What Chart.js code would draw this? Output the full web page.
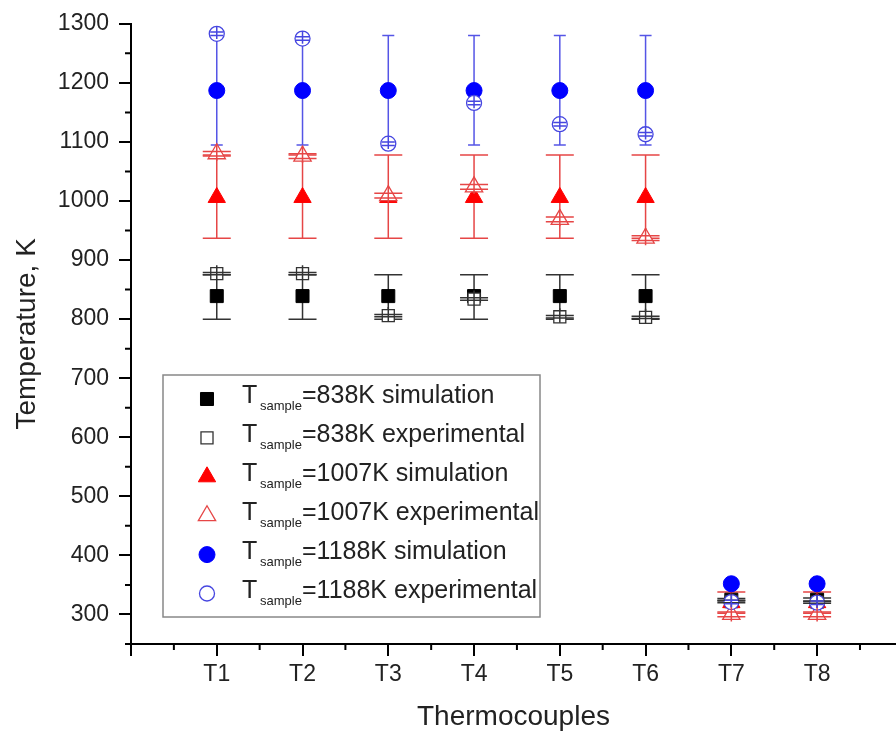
<!DOCTYPE html>
<html>
<head>
<meta charset="utf-8">
<script src="https://cdn.jsdelivr.net/npm/chart.js@4.4.1/dist/chart.umd.min.js"></script>
<style>
    html, body { margin: 0; padding: 0; background: #fff; }
    #wrap { width: 896px; height: 736px; }
</style>
</head>
<body>
<div id="wrap"><canvas id="chart" width="896" height="736"></canvas></div>
<script>
// thermocouple positions on the x axis
const thermocouples = ["T1", "T2", "T3", "T4", "T5", "T6", "T7", "T8"];
const tcPos = [1, 2, 3, 4, 5, 6, 7, 8];

// T_sample = 838 K
const sim838 = [839, 839, 839, 839, 839, 839, 325, 325];
const sim838Low = [800, 800, 800, 800, 800, 800, 323, 322];
const sim838High = [875, 875, 875, 875, 875, 875, 327, 328];
const exp838 = [877, 877, 806, 834, 804, 803, 322, 321];
const exp838Err = [2, 2, 2, 2, 2, 2, 2, 2];

// T_sample = 1007 K
const sim1007 = [1006, 1006, 1006, 1006, 1006, 1006, 320, 320];
const sim1007Low = [937, 937, 937, 937, 937, 937, 302, 302];
const sim1007High = [1078, 1078, 1078, 1078, 1078, 1078, 338, 338];
const exp1007 = [1080, 1076, 1009, 1024, 969, 937, 300, 300];
const exp1007Err = [4, 4, 4, 4, 4, 4, 4, 4];

// T_sample = 1188 K
const sim1188 = [1187, 1187, 1187, 1187, 1187, 1187, 352, 352];
const sim1188Low = [1095, 1095, 1095, 1095, 1095, 1095, 352, 352];
const sim1188High = [1280, 1280, 1280, 1280, 1280, 1280, 352, 352];
const exp1188 = [1283, 1275, 1097, 1166, 1130, 1113, 321, 320];
const exp1188Err = [3, 3, 3, 3, 3, 3, 3, 3];

// axis ticks
const xTickValues = [0, 1, 2, 3, 4, 5, 6, 7, 8];
const xMinorTicks = [0.5, 1.5, 2.5, 3.5, 4.5, 5.5, 6.5, 7.5, 8.5];
const yTickValues = [300, 400, 500, 600, 700, 800, 900, 1000, 1100, 1200, 1300];
const yMinorTicks = [250, 350, 450, 550, 650, 750, 850, 950, 1050, 1150, 1250];

const legendLabels = ["=838K simulation", "=838K experimental", "=1007K simulation",
    "=1007K experimental", "=1188K simulation", "=1188K experimental"];

const FONT = '"Liberation Sans", Arial, Helvetica, sans-serif';
const TEXT = "#222";

function pts(values) {
    return tcPos.map((x, i) => ({ x: x, y: values[i] }));
}
function minus(values, err) { return values.map((v, i) => v - err[i]); }
function plus(values, err) { return values.map((v, i) => v + err[i]); }

const datasets = [
    {
        label: "838 sim", data: pts(sim838), order: 6,
        pointStyle: "rect", pointRadius: 9.2, pointBackgroundColor: "#000", pointBorderColor: "#000", pointBorderWidth: 1,
        err: { low: sim838Low, high: sim838High, cap: 28, color: "#333", above: false }
    },
    {
        label: "838 exp", data: pts(exp838), order: 5,
        pointStyle: "rect", pointRadius: 8.5, pointBackgroundColor: "#fff", pointBorderColor: "#333", pointBorderWidth: 1.3,
        err: { low: minus(exp838, exp838Err), high: plus(exp838, exp838Err), cap: 28, color: "#333", above: true }
    },
    {
        label: "1007 sim", data: pts(sim1007), order: 4,
        pointStyle: "triangle", pointRadius: 10, pointBackgroundColor: "#ff0000", pointBorderColor: "#ff0000", pointBorderWidth: 1,
        err: { low: sim1007Low, high: sim1007High, cap: 28, color: "#e64646", above: false }
    },
    {
        label: "1007 exp", data: pts(exp1007), order: 3,
        pointStyle: "triangle", pointRadius: 10, pointBackgroundColor: "#fff", pointBorderColor: "#e64646", pointBorderWidth: 1.3,
        err: { low: minus(exp1007, exp1007Err), high: plus(exp1007, exp1007Err), cap: 28, color: "#e64646", above: true }
    },
    {
        label: "1188 sim", data: pts(sim1188), order: 2,
        pointStyle: "circle", pointRadius: 8, pointBackgroundColor: "#0000ff", pointBorderColor: "#0000ff", pointBorderWidth: 1,
        err: { low: sim1188Low, high: sim1188High, cap: 12, color: "#5555e6", above: false }
    },
    {
        label: "1188 exp", data: pts(exp1188), order: 1,
        pointStyle: "circle", pointRadius: 7.5, pointBackgroundColor: "#fff", pointBorderColor: "#4646e0", pointBorderWidth: 1.3,
        err: { low: minus(exp1188, exp1188Err), high: plus(exp1188, exp1188Err), cap: 13, color: "#4646e0", above: true }
    }
];

function drawErrorBars(chart, above) {
    const ctx = chart.ctx;
    const y = chart.scales.y;
    chart.data.datasets.forEach((ds, di) => {
        if (!ds.err || ds.err.above !== above) return;
        const meta = chart.getDatasetMeta(di);
        const h = ds.err.cap / 2;
        ctx.save();
        ctx.strokeStyle = ds.err.color;
        ctx.lineWidth = 1.5;
        meta.data.forEach((pt, i) => {
            const yLo = y.getPixelForValue(ds.err.low[i]);
            const yHi = y.getPixelForValue(ds.err.high[i]);
            ctx.beginPath();
            if (above) {
                // line through the open marker
                ctx.moveTo(pt.x, pt.y - ds.pointRadius);
                ctx.lineTo(pt.x, pt.y + ds.pointRadius * 0.7);
            } else {
                ctx.moveTo(pt.x, yLo);
                ctx.lineTo(pt.x, yHi);
            }
            ctx.moveTo(pt.x - h, yLo); ctx.lineTo(pt.x + h, yLo);
            ctx.moveTo(pt.x - h, yHi); ctx.lineTo(pt.x + h, yHi);
            ctx.stroke();
        });
        ctx.restore();
    });
}

const errorBarPlugin = {
    id: "errorBars",
    beforeDatasetsDraw(chart) { drawErrorBars(chart, false); },
    afterDatasetsDraw(chart) { drawErrorBars(chart, true); }
};

const minorTickPlugin = {
    id: "minorTicks",
    afterDraw(chart) {
        const ctx = chart.ctx;
        const area = chart.chartArea;
        ctx.save();
        ctx.strokeStyle = "#000";
        ctx.lineWidth = 2;
        ctx.beginPath();
        yMinorTicks.forEach(v => {
            const py = chart.scales.y.getPixelForValue(v);
            ctx.moveTo(area.left - 6, py);
            ctx.lineTo(area.left, py);
        });
        xMinorTicks.forEach(v => {
            const px = chart.scales.x.getPixelForValue(v);
            ctx.moveTo(px, area.bottom);
            ctx.lineTo(px, area.bottom + 6);
        });
        ctx.stroke();
        ctx.restore();
    }
};

function legendMarker(ctx, i, x, y) {
    const ds = datasets[i];
    ctx.save();
    ctx.fillStyle = ds.pointBackgroundColor;
    ctx.strokeStyle = ds.pointBorderColor;
    ctx.lineWidth = ds.pointBorderWidth;
    ctx.beginPath();
    if (ds.pointStyle === "rect") {
        const s = ds.pointRadius * Math.SQRT1_2;
        ctx.rect(x - s, y - s, 2 * s, 2 * s);
    } else if (ds.pointStyle === "triangle") {
        const r = ds.pointRadius;
        ctx.moveTo(x, y - r);
        ctx.lineTo(x + r * Math.sin(2 * Math.PI / 3), y + r / 2);
        ctx.lineTo(x - r * Math.sin(2 * Math.PI / 3), y + r / 2);
        ctx.closePath();
    } else {
        ctx.arc(x, y, ds.pointRadius, 0, 2 * Math.PI);
    }
    ctx.fill();
    ctx.stroke();
    ctx.restore();
}

const legendPlugin = {
    id: "sampleLegend",
    afterDraw(chart) {
        const ctx = chart.ctx;
        const area = chart.chartArea;
        const left = area.left + 32, top = 375, w = 377, h = 242;
        ctx.save();
        ctx.strokeStyle = "#888";
        ctx.lineWidth = 1.5;
        ctx.strokeRect(left, top, w, h);
        legendLabels.forEach((label, i) => {
            const base = top + 28 + i * 38.9;
            legendMarker(ctx, i, left + 44, base - 4);
            ctx.fillStyle = TEXT;
            ctx.textBaseline = "alphabetic";
            ctx.font = "25px " + FONT;
            ctx.fillText("T", left + 79, base);
            ctx.font = "13px " + FONT;
            ctx.fillText("sample", left + 97, base + 7);
            ctx.font = "25px " + FONT;
            ctx.fillText(label, left + 139, base);
        });
        ctx.restore();
    }
};

new Chart(document.getElementById("chart"), {
    type: "scatter",
    data: { datasets: datasets },
    plugins: [errorBarPlugin, minorTickPlugin, legendPlugin],
    options: {
        responsive: false,
        animation: false,
        layout: { autoPadding: false, padding: { left: 0, right: 0, top: 22.7, bottom: 0 } },
        plugins: { legend: { display: false }, tooltip: { enabled: false } },
        scales: {
            x: {
                type: "linear",
                min: 0,
                max: 8.92,
                afterBuildTicks: s => { s.ticks = xTickValues.map(v => ({ value: v })); },
                afterFit: s => { s.height = 92; s.paddingLeft = 0; s.paddingRight = 0; },
                grid: { display: true, drawOnChartArea: false, drawTicks: true, tickLength: 12, color: "#000", lineWidth: 2 },
                border: { display: true, color: "#000", width: 2 },
                ticks: {
                    autoSkip: false, maxRotation: 0, padding: 5, color: TEXT,
                    font: { family: FONT, size: 23 },
                    callback: v => (v >= 1 && v <= 8 ? thermocouples[v - 1] : "")
                },
                title: {
                    display: true, text: "Thermocouples", color: TEXT,
                    font: { family: FONT, size: 28 }, padding: { top: 0, bottom: 2 }
                }
            },
            y: {
                min: 250,
                max: 1300,
                afterBuildTicks: s => { s.ticks = yTickValues.map(v => ({ value: v })); },
                afterFit: s => { s.width = 131; },
                grid: { display: true, drawOnChartArea: false, drawTicks: true, tickLength: 12, color: "#000", lineWidth: 2 },
                border: { display: true, color: "#000", width: 2 },
                ticks: {
                    padding: 10, color: TEXT, font: { family: FONT, size: 23 },
                    callback: v => String(v)
                },
                title: {
                    display: true, text: "Temperature, K", color: TEXT,
                    font: { family: FONT, size: 28 }, padding: { top: 10, bottom: 0 }
                }
            }
        }
    }
});
</script>
</body>
</html>
